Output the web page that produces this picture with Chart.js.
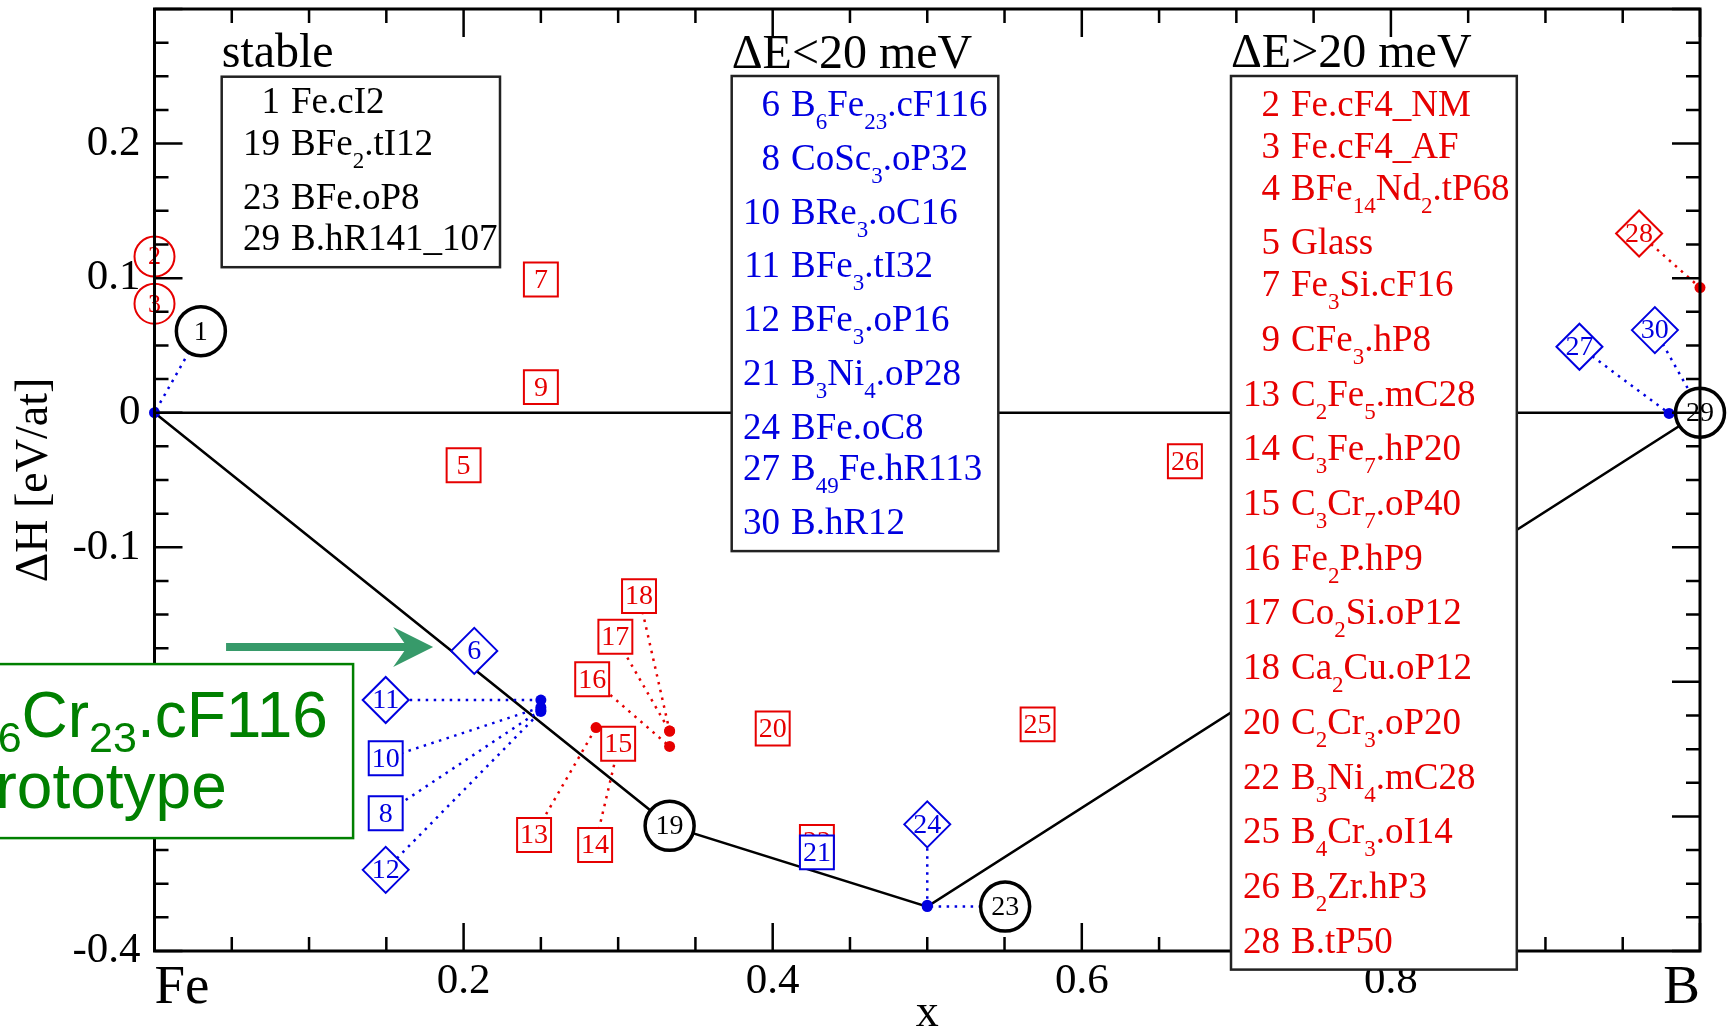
<!DOCTYPE html>
<html><head><meta charset="utf-8">
<script src="https://cdn.jsdelivr.net/npm/chart.js@4.4.1/dist/chart.umd.min.js"></script>
<style>html,body{margin:0;padding:0;background:#fff;overflow:hidden}canvas{display:block}</style>
</head><body>
<canvas id="c" width="1730" height="1032" style="width:1730px;height:1032px"></canvas>
<script>
// ---------------- data ----------------
const xTickValues = [0, 0.2, 0.4, 0.6, 0.8, 1];
const xTickLabels = ['Fe', '0.2', '0.4', '0.6', '0.8', 'B'];
const yTickValues = [-0.4, -0.3, -0.2, -0.1, 0, 0.1, 0.2];
const yTickLabels = ['-0.4', '-0.3', '-0.2', '-0.1', '0', '0.1', '0.2'];

const zeroLineX = [0, 1];
const zeroLineY = [0, 0];
const hullX = [0, 0.3333, 0.5, 1];
const hullY = [0, -0.307, -0.367, 0];

const ids    = [1, 2, 3, 5, 6, 7, 8, 9, 10, 11, 12, 13, 14, 15, 16, 17, 18, 19, 20, 21, 22, 23, 24, 25, 26, 27, 28, 29, 30];
const compX  = [0, 0, 0, 0.2, 0.2069, 0.25, 0.25, 0.25, 0.25, 0.25, 0.25, 0.2857, 0.3, 0.3, 0.3333, 0.3333, 0.3333, 0.3333, 0.4, 0.4286, 0.4286, 0.5, 0.5, 0.5714, 0.6667, 0.98, 1, 1, 1];
const dH     = [0, 0.116, 0.081, -0.039, -0.177, 0.099, -0.221, 0.019, -0.219, -0.2135, -0.222, -0.234, -0.249, -0.246, -0.248, -0.2366, -0.2366, -0.307, -0.2346, -0.3267, -0.319, -0.367, -0.366, -0.2316, -0.036, -0.0005, 0.093, 0, 0.002];
// label placement (data units); null = label sits on the point itself
const labelX = [0.03, null, null, null, null, null, 0.1496, null, 0.1496, 0.1496, 0.1496, 0.2456, 0.2851, null, 0.2832, 0.2982, 0.3135, null, null, null, null, 0.5504, 0.5, null, null, 0.922, 0.9606, null, 0.9708];
const labelY = [0.0606, null, null, null, null, null, -0.2977, null, -0.2568, -0.2135, -0.3397, -0.3138, -0.3213, null, -0.1981, -0.1665, -0.1363, null, null, null, null, -0.367, -0.3059, null, null, 0.049, 0.1332, null, 0.0614];

const circleIds  = [1, 2, 3, 19, 23, 29];
const diamondIds = [6, 11, 12, 24, 27, 28, 30];

const stableIds   = [1, 19, 23, 29];
const stableNames = ['Fe.cI2', 'BFe_{2}.tI12', 'BFe.oP8', 'B.hR141_107'];
const lowIds      = [6, 8, 10, 11, 12, 21, 24, 27, 30];
const lowNames    = ['B_{6}Fe_{23}.cF116', 'CoSc_{3}.oP32', 'BRe_{3}.oC16', 'BFe_{3}.tI32', 'BFe_{3}.oP16', 'B_{3}Ni_{4}.oP28', 'BFe.oC8', 'B_{49}Fe.hR113', 'B.hR12'];
const highIds     = [2, 3, 4, 5, 7, 9, 13, 14, 15, 16, 17, 18, 20, 22, 25, 26, 28];
const highNames   = ['Fe.cF4_NM', 'Fe.cF4_AF', 'BFe_{14}Nd_{2}.tP68', 'Glass', 'Fe_{3}Si.cF16', 'CFe_{3}.hP8', 'C_{2}Fe_{5}.mC28', 'C_{3}Fe_{7}.hP20', 'C_{3}Cr_{7}.oP40', 'Fe_{2}P.hP9', 'Co_{2}Si.oP12', 'Ca_{2}Cu.oP12', 'C_{2}Cr_{3}.oP20', 'B_{3}Ni_{4}.mC28', 'B_{4}Cr_{3}.oI14', 'B_{2}Zr.hP3', 'B.tP50'];

const noteLines = ['B_{6}Cr_{23}.cF116', 'prototype'];

// ---------------- styling / layout ----------------
const SERIF = '"Liberation Serif", "Times New Roman", serif';
const SANS = '"Liberation Sans", Arial, sans-serif';
const RED = '#e60000', BLUE = '#0000e0', BLACK = '#000000';

function groupOf(id) { return stableIds.includes(id) ? 'stable' : lowIds.includes(id) ? 'low' : 'high'; }
function colorOf(id) { const g = groupOf(id); return g === 'stable' ? BLACK : g === 'low' ? BLUE : RED; }
function shapeOf(id) { return circleIds.includes(id) ? 'circle' : diamondIds.includes(id) ? 'rectRot' : 'rect'; }
function labelFor(v, vals, labs) { const i = vals.findIndex(t => Math.abs(t - v) < 1e-6); return i >= 0 ? labs[i] : ''; }
function isMult(v, s) { return Math.abs(v / s - Math.round(v / s)) < 1e-6; }

function parseRich(s) {
  const out = []; const re = /_\{([^}]*)\}/g; let last = 0, m;
  while ((m = re.exec(s))) {
    if (m.index > last) out.push({ t: s.slice(last, m.index), sub: false });
    out.push({ t: m[1], sub: true }); last = re.lastIndex;
  }
  if (last < s.length) out.push({ t: s.slice(last), sub: false });
  return out;
}
function hasSub(s) { return /_\{/.test(s); }
function drawRich(ctx, s, x, y, size, subSize, subShift, family, color) {
  ctx.fillStyle = color; ctx.textAlign = 'left'; ctx.textBaseline = 'alphabetic';
  for (const seg of parseRich(s)) {
    ctx.font = `${seg.sub ? subSize : size}px ${family}`;
    ctx.fillText(seg.t, x, y + (seg.sub ? subShift : 0));
    x += ctx.measureText(seg.t).width;
  }
  return x;
}

const legendBoxes = [
  { title: 'stable', ids: stableIds, names: stableNames, left: 221.7, right: 500, top: 76.7, titleBase: 66.7, firstBase: 113.3, numRight: 280, rowSub: 53.5, rowPlain: 41.7 },
  { title: 'ΔE<20 meV', ids: lowIds, names: lowNames, left: 731.7, right: 998.3, top: 76, titleBase: 67.9, firstBase: 116, numRight: 780, rowSub: 53.8, rowPlain: 41.5 },
  { title: 'ΔE>20 meV', ids: highIds, names: highNames, left: 1231, right: 1516.8, top: 76, titleBase: 66.7, firstBase: 115.5, numRight: 1280, rowSub: 54.7, rowPlain: 42 }
];
// green annotation (data units)
const note = { boxX0: -0.2, boxX1: 0.1285, boxY0: -0.1868, boxY1: -0.3161, textX: [-0.1291, -0.1259], textY: [-0.2408, -0.294],
               arrowX0: 0.0463, arrowX1: 0.1803, arrowY: -0.1741 };

function drawLegend(ctx, L) {
  const bases = []; let y = L.firstBase;
  L.names.forEach(n => { bases.push(y); y += hasSub(n) ? L.rowSub : L.rowPlain; });
  const bottom = bases[bases.length - 1] + 17;
  ctx.fillStyle = '#fff'; ctx.fillRect(L.left, L.top, L.right - L.left, bottom - L.top);
  ctx.lineWidth = 2.5; ctx.strokeStyle = '#222'; ctx.strokeRect(L.left, L.top, L.right - L.left, bottom - L.top);
  ctx.font = `48px ${SERIF}`; ctx.fillStyle = '#000'; ctx.textAlign = 'left'; ctx.textBaseline = 'alphabetic';
  ctx.fillText(L.title, L.left, L.titleBase);
  L.names.forEach((n, i) => {
    const col = colorOf(L.ids[i]);
    ctx.font = `37px ${SERIF}`; ctx.fillStyle = col; ctx.textAlign = 'right'; ctx.textBaseline = 'alphabetic';
    ctx.fillText(String(L.ids[i]), L.numRight, bases[i]);
    drawRich(ctx, n, L.numRight + 11, bases[i], 37, 23, 13, SERIF, col);
  });
}

// ---------------- datasets ----------------
const datasets = [];
datasets.push({ data: zeroLineX.map((x, i) => ({ x, y: zeroLineY[i] })), showLine: true, borderColor: '#000', borderWidth: 2.5, pointRadius: 0 });
datasets.push({ data: hullX.map((x, i) => ({ x, y: hullY[i] })), showLine: true, borderColor: '#000', borderWidth: 2.5, pointRadius: 0 });
ids.forEach((id, i) => {
  if (labelX[i] === null) return;
  const col = groupOf(id) === 'high' ? RED : BLUE;
  datasets.push({ data: [{ x: labelX[i], y: labelY[i] }, { x: compX[i], y: dH[i] }], showLine: true, borderColor: col, borderWidth: 2.5,
                  borderDash: [2.5, 5.5], pointRadius: 0, clip: false });
});
ids.forEach((id, i) => {
  if (labelX[i] === null) return;
  const col = groupOf(id) === 'high' ? RED : BLUE;
  datasets.push({ data: [{ x: compX[i], y: dH[i] }], pointRadius: 5.5, pointBackgroundColor: col, pointBorderWidth: 0, clip: false });
});
const rank = { high: 0, low: 1, stable: 2 };
const markerOrder = ids.map((id, i) => i).sort((a, b) => rank[groupOf(ids[a])] - rank[groupOf(ids[b])] || a - b);
markerOrder.forEach(i => {
  const id = ids[i], sh = shapeOf(id), col = colorOf(id), st = groupOf(id) === 'stable';
  const x = labelX[i] === null ? compX[i] : labelX[i];
  const y = labelY[i] === null ? dH[i] : labelY[i];
  const r = sh === 'circle' ? (st ? 24.5 : 20) : sh === 'rect' ? 24 : 23;
  datasets.push({ data: [{ x, y }], pointStyle: sh, pointRadius: r, pointBorderColor: col, pointBackgroundColor: '#fff',
                  pointBorderWidth: st ? 3.5 : 2, markerText: String(id), markerColor: col, markerFont: (sh === 'circle' && !st) ? 26 : 28, clip: false });
});
datasets.forEach((d, k) => { d.order = datasets.length - k; });

const overlay = {
  id: 'overlay',
  afterDatasetDraw(chart, args) {
    const ds = chart.data.datasets[args.index];
    if (!ds.markerText) return;
    const el = args.meta.data[0]; if (!el) return;
    const ctx = chart.ctx; ctx.save();
    ctx.font = `${ds.markerFont}px ${SERIF}`; ctx.fillStyle = ds.markerColor; ctx.textAlign = 'center'; ctx.textBaseline = 'middle';
    ctx.fillText(ds.markerText, el.x, el.y + 1);
    ctx.restore();
  },
  afterDraw(chart) {
    const ctx = chart.ctx, a = chart.chartArea, xs = chart.scales.x, ys = chart.scales.y;
    ctx.save();
    // inward ticks on all four sides
    ctx.strokeStyle = '#000'; ctx.lineWidth = 2.5; ctx.beginPath();
    xs.ticks.forEach(t => {
      const p = xs.getPixelForValue(t.value), L = isMult(t.value, 0.2) ? 28 : 14;
      ctx.moveTo(p, a.bottom); ctx.lineTo(p, a.bottom - L); ctx.moveTo(p, a.top); ctx.lineTo(p, a.top + L);
    });
    ys.ticks.forEach(t => {
      const p = ys.getPixelForValue(t.value), L = isMult(t.value, 0.1) ? 28 : 14;
      ctx.moveTo(a.left, p); ctx.lineTo(a.left + L, p); ctx.moveTo(a.right, p); ctx.lineTo(a.right - L, p);
    });
    ctx.stroke();
    ctx.lineWidth = 3; ctx.strokeRect(a.left, a.top, a.right - a.left, a.bottom - a.top);
    // legends
    legendBoxes.forEach(L => drawLegend(ctx, L));
    // green annotation box
    const bx0 = xs.getPixelForValue(note.boxX0), bx1 = xs.getPixelForValue(note.boxX1);
    const by0 = ys.getPixelForValue(note.boxY0), by1 = ys.getPixelForValue(note.boxY1);
    ctx.fillStyle = '#fff'; ctx.fillRect(bx0, by0, bx1 - bx0, by1 - by0);
    ctx.strokeStyle = '#008000'; ctx.lineWidth = 2.5; ctx.strokeRect(bx0, by0, bx1 - bx0, by1 - by0);
    noteLines.forEach((s, i) => drawRich(ctx, s, xs.getPixelForValue(note.textX[i]), ys.getPixelForValue(note.textY[i]), 64, 43, 15, SANS, '#008000'));
    // arrow
    const ay = ys.getPixelForValue(note.arrowY), ax0 = xs.getPixelForValue(note.arrowX0), ax1 = xs.getPixelForValue(note.arrowX1);
    ctx.fillStyle = '#379a6a';
    ctx.fillRect(ax0, ay - 4, (ax1 - 26) - ax0, 8);
    ctx.beginPath(); ctx.moveTo(ax1, ay); ctx.lineTo(ax1 - 40, ay - 20); ctx.lineTo(ax1 - 26, ay); ctx.lineTo(ax1 - 40, ay + 20); ctx.closePath(); ctx.fill();
    ctx.restore();
  }
};

new Chart(document.getElementById('c'), {
  type: 'scatter',
  data: { datasets },
  options: {
    responsive: false, devicePixelRatio: 1, animation: false, events: [],
    layout: { autoPadding: false, padding: { left: 0, right: 30, top: 9, bottom: 0 } },
    plugins: { legend: { display: false }, tooltip: { enabled: false } },
    scales: {
      x: {
        type: 'linear', position: 'bottom', min: 0, max: 1,
        grid: { display: false, drawTicks: false }, border: { display: false },
        ticks: {
          stepSize: 0.05, autoSkip: false, maxRotation: 0, minRotation: 0, align: 'inner', padding: 5, color: '#000',
          font: c => ({ family: SERIF, size: (c.tick && (Math.abs(c.tick.value) < 1e-6 || Math.abs(c.tick.value - 1) < 1e-6)) ? 55 : 43 }),
          callback: v => labelFor(v, xTickValues, xTickLabels)
        },
        title: { display: true, text: 'x', color: '#000', font: { family: SERIF, size: 46, lineHeight: 0.8 }, padding: 0 },
        afterFit: s => { s.height = 81; s.paddingLeft = 0; s.paddingRight = 0; }
      },
      y: {
        type: 'linear', position: 'left', min: -0.4, max: 0.3,
        grid: { display: false, drawTicks: false }, border: { display: false },
        ticks: { stepSize: 0.025, autoSkip: false, padding: 14, color: '#000', font: { family: SERIF, size: 43, lineHeight: 0.3 },
                 callback: v => labelFor(v, yTickValues, yTickLabels) },
        title: { display: true, text: 'ΔH [eV/at]', color: '#000', font: { family: SERIF, size: 46 }, padding: { top: 7, bottom: 0 } },
        afterFit: s => { s.width = 154.5; s.paddingTop = 0; s.paddingBottom = 0; }
      }
    }
  },
  plugins: [overlay]
});
</script>
</body></html>
